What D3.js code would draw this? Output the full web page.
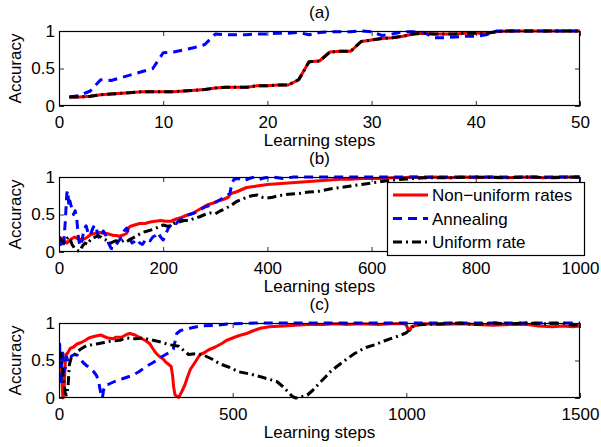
<!DOCTYPE html>
<html>
<head>
<meta charset="utf-8">
<script src="https://cdn.jsdelivr.net/npm/d3@7"></script>
<style>
  html, body { margin: 0; padding: 0; background: #fff; }
  svg text { font-family: "Liberation Sans", Arial, Helvetica, sans-serif; fill: #000; }
</style>
</head>
<body>
<svg id="chart" width="601" height="447"></svg>
<script>
// ---- Panel (a): 50 learning steps ----
const stepsA = d3.range(1, 51);
const nonUniformA = [0.12,0.12,0.13,0.15,0.16,0.17,0.18,0.19,0.19,0.19,
                     0.19,0.20,0.21,0.22,0.24,0.25,0.25,0.25,0.27,0.27,
                     0.28,0.28,0.35,0.59,0.60,0.72,0.73,0.73,0.86,0.88,
                     0.90,0.91,0.93,0.96,0.97,0.96,0.96,0.96,0.97,0.97,
                     0.97,0.99,1,1,1,1,1,1,1,1];
const annealingA = [0.12,0.14,0.20,0.35,0.34,0.38,0.42,0.46,0.50,0.71,
                    0.72,0.75,0.78,0.82,0.96,0.95,0.95,0.95,0.96,0.96,
                    0.97,0.97,0.98,0.95,0.98,0.99,0.99,0.99,1.00,0.99,
                    0.94,0.96,0.99,0.99,0.98,0.91,0.91,0.92,0.93,0.93,
                    0.95,1,1,1,1,1,1,1,1,1];
const uniformA = [0.12,0.12,0.13,0.15,0.16,0.17,0.18,0.19,0.19,0.19,
                  0.19,0.20,0.21,0.22,0.24,0.25,0.25,0.25,0.27,0.27,
                  0.28,0.28,0.35,0.59,0.60,0.72,0.73,0.73,0.86,0.88,
                  0.90,0.91,0.93,0.96,0.97,0.96,0.96,0.96,0.97,0.97,
                  0.97,0.99,1,1,1,1,1,1,1,1];

// ---- Panel (b): 1000 learning steps ----
const nonUniformBx = [0,5,10,15,20,25,30,35,40,45,50,55,60,65,70,75,80,85,90,95,100,105,110,115,120,125,130,133,136,145,155,165,175,185,195,205,215,225,235,245,255,265,275,285,295,305,315,325,330,340,350,360,370,380,390,400,420,440,460,480,500,520,540,560,580,600,620,640,660,680,700,720,750,780,800,830,860,900,930,960,1000];
const nonUniformBy = [0.20,0.18,0.16,0.12,0.15,0.18,0.20,0.18,0.17,0.16,0.18,0.20,0.23,0.24,0.25,0.26,0.26,0.25,0.25,0.24,0.23,0.22,0.22,0.21,0.22,0.23,0.25,0.31,0.34,0.36,0.38,0.38,0.40,0.41,0.42,0.41,0.41,0.44,0.46,0.49,0.51,0.55,0.59,0.63,0.65,0.68,0.70,0.73,0.78,0.80,0.83,0.86,0.87,0.88,0.89,0.90,0.91,0.92,0.93,0.94,0.95,0.96,0.97,0.97,0.98,0.98,0.98,0.99,0.99,1.00,0.99,1.00,0.99,1.00,0.99,1.00,0.99,1.00,0.99,1.00,1.00];

const annealingBx = [0,3,6,9,12,15,17,19,21,23,25,28,31,34,37,40,44,48,52,56,60,64,68,72,76,80,85,90,95,100,105,110,115,120,125,130,135,140,145,150,155,160,165,170,175,180,185,190,195,200,205,210,215,220,225,230,240,250,260,270,280,290,300,310,320,328,332,336,345,355,365,375,385,395,410,430,450,500,550,600,1000];
const annealingBy = [0.20,0.10,0.05,0.12,0.40,0.78,0.82,0.60,0.68,0.62,0.58,0.50,0.55,0.45,0.20,0.08,0.15,0.30,0.35,0.25,0.22,0.30,0.36,0.30,0.20,0.18,0.28,0.22,0.12,0.05,0.04,0.10,0.15,0.20,0.28,0.32,0.20,0.12,0.14,0.17,0.12,0.10,0.15,0.18,0.15,0.20,0.22,0.26,0.20,0.16,0.24,0.32,0.36,0.40,0.38,0.42,0.46,0.50,0.52,0.56,0.60,0.62,0.66,0.70,0.74,0.78,0.92,0.97,0.98,0.95,0.98,1.00,0.97,0.99,1.00,0.98,1.00,1.00,1.00,1.00,1.00];

const uniformBx = [0,5,10,15,20,25,30,35,40,45,50,55,60,65,70,75,80,85,90,95,100,105,110,115,120,125,130,140,150,160,170,180,190,200,210,220,230,240,250,260,270,280,290,300,310,320,330,340,350,360,370,380,390,400,410,420,440,460,480,500,520,540,560,580,600,620,640,660,680,700,750,800,850,900,950,1000];
const uniformBy = [0.20,0.15,0.12,0.18,0.20,0.10,0.05,0.02,0.01,0.08,0.12,0.10,0.16,0.19,0.20,0.22,0.20,0.17,0.16,0.14,0.12,0.14,0.15,0.13,0.14,0.16,0.14,0.18,0.22,0.26,0.28,0.30,0.33,0.36,0.34,0.38,0.40,0.42,0.42,0.45,0.47,0.50,0.52,0.51,0.55,0.58,0.62,0.67,0.70,0.73,0.75,0.76,0.73,0.72,0.73,0.75,0.77,0.78,0.80,0.81,0.84,0.86,0.88,0.90,0.92,0.94,0.96,0.97,0.98,0.99,0.99,1.00,0.99,1.00,0.99,1.00];

// ---- Panel (c): 1500 learning steps ----
const nonUniformCx = [0,4,8,11,14,17,20,25,32,42,52,64,76,86,100,110,120,130,141,156,163,180,196,204,219,235,251,262,270,279,290,300,307,315,323,327,330,334,340,345,353,362,370,378,388,395,406,417,430,450,470,483,500,517,540,561,580,605,646,680,715,760,800,826,870,920,960,991,1000,1005,1010,1015,1022,1035,1046,1100,1150,1200,1250,1300,1350,1380,1420,1450,1480,1500];
const nonUniformCy = [0.50,0.55,0.30,0.00,0.02,0.40,0.58,0.60,0.66,0.68,0.72,0.74,0.77,0.80,0.82,0.83,0.84,0.82,0.80,0.79,0.81,0.81,0.85,0.86,0.84,0.80,0.76,0.72,0.66,0.60,0.55,0.52,0.48,0.45,0.42,0.30,0.15,0.04,0.02,0.01,0.08,0.17,0.28,0.38,0.45,0.50,0.58,0.60,0.64,0.68,0.73,0.77,0.80,0.83,0.86,0.90,0.93,0.95,0.96,0.97,0.98,0.98,0.99,0.98,0.99,0.98,0.99,0.99,0.97,0.92,0.90,0.95,0.96,0.98,0.99,0.98,0.99,0.98,0.97,0.98,0.98,0.96,0.95,0.96,0.95,0.96];

const annealingCx = [0,2,4,6,8,11,14,18,22,26,30,36,44,53,60,70,80,89,100,108,114,118,122,125,128,132,141,160,185,210,230,251,270,296,315,329,334,339,350,377,406,454,494,569,650,750,900,1100,1300,1500];
const annealingCy = [0.50,0.72,0.30,0.17,0.50,0.60,0.35,0.40,0.55,0.48,0.52,0.56,0.58,0.57,0.53,0.47,0.43,0.40,0.35,0.30,0.22,0.12,0.03,0.00,0.10,0.17,0.18,0.22,0.26,0.30,0.35,0.42,0.47,0.55,0.60,0.65,0.75,0.86,0.90,0.93,0.96,0.97,0.99,1.00,1.00,1.00,1.00,1.00,1.00,1.00];

const uniformCx = [0,5,10,14,18,22,26,30,36,45,53,65,80,95,108,130,150,175,196,220,240,262,290,318,345,360,373,395,417,440,461,490,517,550,583,605,627,645,660,672,682,700,715,730,748,765,781,800,826,850,881,910,936,960,980,1000,1010,1024,1050,1101,1150,1200,1250,1300,1350,1400,1450,1480,1500];
const uniformCy = [0.55,0.60,0.40,0.20,0.06,0.04,0.15,0.45,0.55,0.58,0.62,0.66,0.70,0.71,0.72,0.74,0.76,0.77,0.80,0.79,0.80,0.78,0.75,0.71,0.69,0.63,0.58,0.59,0.57,0.52,0.46,0.41,0.35,0.32,0.28,0.25,0.22,0.15,0.08,0.02,0.00,0.02,0.04,0.10,0.19,0.27,0.35,0.42,0.51,0.59,0.67,0.71,0.76,0.80,0.83,0.87,0.92,0.97,0.98,0.99,1.00,0.98,1.00,0.99,1.00,0.99,1.00,0.97,0.98];

const xTicksA = [0, 10, 20, 30, 40, 50];
const xTicksB = [0, 200, 400, 600, 800, 1000];
const xTicksC = [0, 500, 1000, 1500];
const yTicks = [0, 0.5, 1];
const seriesNames = ["Non\u2212uniform rates", "Annealing", "Uniform rate"];

// ---- drawing ----
const svg = d3.select("#chart");
const left = 59, right = 580, plotH = 75;
const fontSize = 17;

const styles = [
  { color: "#ff0000", width: 3, dash: null },
  { color: "#0000ff", width: 3, dash: "9,6" },
  { color: "#000000", width: 3, dash: "9,4,2,4" }
];

function zipXY(xs, ys) { return xs.map((x, i) => [x, ys[i]]); }

function panel(id, top, xMax, xTicks, title, series) {
  const x = d3.scaleLinear().domain([0, xMax]).range([left, right]);
  const y = d3.scaleLinear().domain([0, 1]).range([top + plotH, top]);
  const g = svg.append("g");

  g.append("clipPath").attr("id", "clip-" + id)
    .append("rect").attr("x", left).attr("y", top - 2)
    .attr("width", right - left).attr("height", plotH + 4);

  const line = d3.line().x(d => x(d[0])).y(d => y(d[1]));
  const lines = g.append("g").attr("clip-path", `url(#clip-${id})`);
  series.forEach((pts, i) => {
    const s = styles[i];
    lines.append("path")
      .datum(pts)
      .attr("d", line)
      .attr("fill", "none")
      .attr("stroke", s.color)
      .attr("stroke-width", s.width)
      .attr("stroke-linejoin", "round")
      .attr("stroke-dasharray", s.dash);
  });

  // axes with inward ticks on all four sides
  const fmt = d3.format("~g");
  const bottom = g.append("g").attr("transform", `translate(0,${top + plotH})`)
    .call(d3.axisBottom(x).tickValues(xTicks).tickFormat(fmt)
      .tickSizeInner(-5).tickSizeOuter(0).tickPadding(10));
  const leftAx = g.append("g").attr("transform", `translate(${left},0)`)
    .call(d3.axisLeft(y).tickValues(yTicks).tickFormat(fmt)
      .tickSizeInner(-5).tickSizeOuter(0).tickPadding(4));
  const topAx = g.append("g").attr("transform", `translate(0,${top})`)
    .call(d3.axisTop(x).tickValues(xTicks).tickFormat("")
      .tickSizeInner(-5).tickSizeOuter(0));
  const rightAx = g.append("g").attr("transform", `translate(${right},0)`)
    .call(d3.axisRight(y).tickValues(yTicks).tickFormat("")
      .tickSizeInner(-5).tickSizeOuter(0));
  [bottom, leftAx, topAx, rightAx].forEach(a => {
    a.select(".domain").remove();
    a.selectAll("line").attr("stroke", "#333").attr("stroke-width", 1);
    a.selectAll("text").attr("font-size", fontSize)
      .attr("font-family", "Liberation Sans, Arial, sans-serif").attr("fill", "#000");
  });

  g.append("rect").attr("x", left + 0.5).attr("y", top + 0.5)
    .attr("width", right - left - 1).attr("height", plotH - 1)
    .attr("fill", "none").attr("stroke", "#000").attr("stroke-width", 1.2);

  g.append("text").attr("x", (left + right) / 2).attr("y", top - 13)
    .attr("text-anchor", "middle").attr("font-size", fontSize).text(title);
  g.append("text").attr("x", (left + right) / 2).attr("y", top + plotH + 40)
    .attr("text-anchor", "middle").attr("font-size", fontSize).text("Learning steps");
  g.append("text")
    .attr("transform", `translate(21,${top + plotH / 2}) rotate(-90)`)
    .attr("text-anchor", "middle").attr("font-size", fontSize).text("Accuracy");
  return g;
}

panel("a", 31, 50, xTicksA, "(a)", [
  zipXY(stepsA, nonUniformA), zipXY(stepsA, annealingA), zipXY(stepsA, uniformA)
]);
const gb = panel("b", 177, 1000, xTicksB, "(b)", [
  zipXY(nonUniformBx, nonUniformBy), zipXY(annealingBx, annealingBy), zipXY(uniformBx, uniformBy)
]);
panel("c", 323, 1500, xTicksC, "(c)", [
  zipXY(nonUniformCx, nonUniformCy), zipXY(annealingCx, annealingCy), zipXY(uniformCx, uniformCy)
]);

// legend inside panel (b)
const lg = svg.append("g").attr("transform", "translate(387,182)");
lg.append("rect").attr("x", 0.5).attr("y", 0.5).attr("width", 197).attr("height", 73)
  .attr("fill", "#fff").attr("stroke", "#000").attr("stroke-width", 1.2);
seriesNames.forEach((name, i) => {
  const yy = 13 + i * 23.5;
  const s = styles[i];
  lg.append("line").attr("x1", 6).attr("x2", 41).attr("y1", yy).attr("y2", yy)
    .attr("stroke", s.color).attr("stroke-width", s.width).attr("stroke-dasharray", s.dash);
  lg.append("text").attr("x", 45).attr("y", yy + 6).attr("font-size", fontSize).text(name);
});
</script>
</body>
</html>
